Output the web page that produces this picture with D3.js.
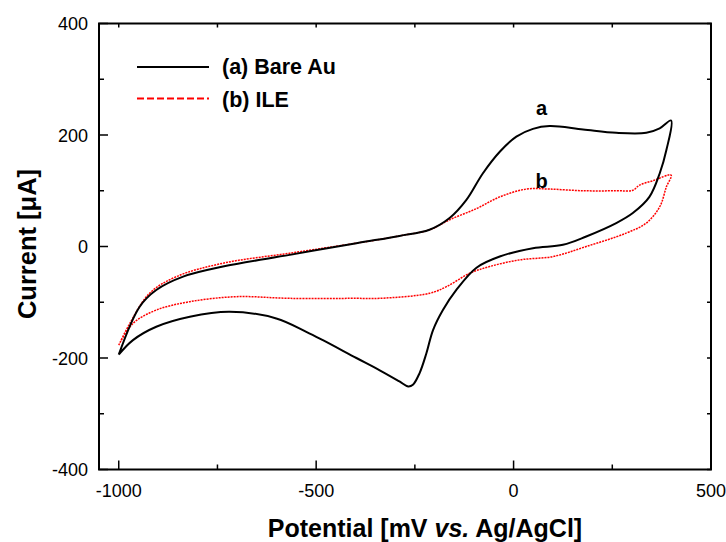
<!DOCTYPE html>
<html><head><meta charset="utf-8">
<script src="https://cdn.jsdelivr.net/npm/d3@7"></script>
<style>body{margin:0;background:#fff}svg{display:block}text{font-family:"Liberation Sans",Arial,sans-serif}</style>
</head><body>
<svg id="c" width="726" height="542"></svg>
<script>
// Series (a) Bare Au: potential (mV), current (µA), full cyclic sweep
const bareAuE = [-1000,-947,-905,-837,-736,-567,-398,-289,-213,-162,-120,-78,-35,7,49,91,176,260,336,370,399,
  387,370,344,302,260,184,125,49,-35,-94,-145,-179,-204,-221,-238,-255,-267,-289,-339,-398,-483,-525,-601,-719,-820,-905,-964,-1000];
const bareAuI = [-194,-108,-78,-54,-36,-15,6,19,30,51,83,131,170,197,211,216,210,204,204,212,226,
  173,131,89,60,42,18,3,-3,-18,-38,-78,-114,-150,-192,-227,-248,-251,-242,-222,-200,-168,-153,-129,-117,-126,-144,-168,-194];
// Series (b) ILE
const ileE = [-1000,-972,-922,-854,-736,-567,-398,-289,-213,-162,-94,-35,32,91,176,260,302,319,353,399,
  387,370,336,285,184,100,15,-61,-111,-170,-213,-339,-398,-567,-702,-820,-905,-964,-1000];
const ileI = [-177,-138,-84,-54,-30,-12,6,19,30,48,68,89,103,103,100,100,101,110,118,128,
  107,71,42,24,0,-18,-24,-36,-48,-72,-84,-93,-93,-93,-90,-99,-114,-138,-177];
const xTicks = [-1000,-500,0,500];
const xMinor = [-750,-250,250];
const yTicks = [-400,-200,0,200,400];
const yMinor = [-300,-100,100,300];
const legendLabels = ["(a) Bare Au","(b) ILE"];

const svg = d3.select("#c");
const L=99,R=711,T=23.5,B=469.5;
const x = d3.scaleLinear().domain([-1050,500]).range([L,R]);
const y = d3.scaleLinear().domain([-400,400]).range([B,T]);

// curves
const line = d3.line().x(d=>x(d[0])).y(d=>y(d[1])).curve(d3.curveCatmullRom.alpha(0.5));
const a = bareAuE.map((e,i)=>[e,bareAuI[i]]);
const b = ileE.map((e,i)=>[e,ileI[i]]);
svg.append("path").attr("d",line(b)).attr("fill","none").attr("stroke","#ff0000").attr("stroke-width",1.5).attr("stroke-dasharray","2,1");
svg.append("path").attr("d",line(a)).attr("fill","none").attr("stroke","#000").attr("stroke-width",2);

// frame
svg.append("rect").attr("x",L).attr("y",T).attr("width",R-L).attr("height",B-T).attr("fill","none").attr("stroke","#000").attr("stroke-width",2);

// ticks (inward)
const g = svg.append("g").attr("stroke","#000").attr("stroke-width",1.5);
xTicks.forEach(v=>g.append("line").attr("x1",x(v)).attr("x2",x(v)).attr("y1",B).attr("y2",B-9));
xMinor.forEach(v=>g.append("line").attr("x1",x(v)).attr("x2",x(v)).attr("y1",B).attr("y2",B-5));
xTicks.concat(xMinor).forEach(v=>g.append("line").attr("x1",x(v)).attr("x2",x(v)).attr("y1",T).attr("y2",T+4));
yTicks.forEach(v=>g.append("line").attr("x1",L).attr("x2",L+9).attr("y1",y(v)).attr("y2",y(v)));
yMinor.forEach(v=>g.append("line").attr("x1",L).attr("x2",L+5).attr("y1",y(v)).attr("y2",y(v)));
yTicks.concat(yMinor).forEach(v=>g.append("line").attr("x1",R).attr("x2",R-4).attr("y1",y(v)).attr("y2",y(v)));

// tick labels
xTicks.forEach(v=>svg.append("text").attr("x",x(v)).attr("y",B+27).attr("text-anchor","middle").attr("font-size",18).text(v));
yTicks.forEach(v=>svg.append("text").attr("x",L-11).attr("y",y(v)+6.5).attr("text-anchor","end").attr("font-size",18).text(v));

// axis titles
const xt = svg.append("text").attr("x",425).attr("y",537).attr("text-anchor","middle").attr("font-size",25).attr("font-weight","bold");
xt.append("tspan").text("Potential [mV ");
xt.append("tspan").attr("font-style","italic").text("vs.");
xt.append("tspan").text(" Ag/AgCl]");
svg.append("text").attr("transform","translate(36,244) rotate(-90)").attr("text-anchor","middle").attr("font-size",25.5).attr("font-weight","bold").text("Current [μA]");

// legend
svg.append("line").attr("x1",137).attr("x2",209).attr("y1",67).attr("y2",67).attr("stroke","#000").attr("stroke-width",2);
svg.append("line").attr("x1",137).attr("x2",209).attr("y1",98.5).attr("y2",98.5).attr("stroke","#ff0000").attr("stroke-width",2).attr("stroke-dasharray","7,3");
svg.append("text").attr("x",222).attr("y",74).attr("font-size",21.5).attr("font-weight","bold").text(legendLabels[0]);
svg.append("text").attr("x",222).attr("y",106.5).attr("font-size",21.5).attr("font-weight","bold").text(legendLabels[1]);

// curve labels
svg.append("text").attr("x",x(71)).attr("y",y(236)).attr("text-anchor","middle").attr("font-size",20).attr("font-weight","bold").text("a");
svg.append("text").attr("x",x(71)).attr("y",y(105)).attr("text-anchor","middle").attr("font-size",20).attr("font-weight","bold").text("b");
</script>
</body></html>
